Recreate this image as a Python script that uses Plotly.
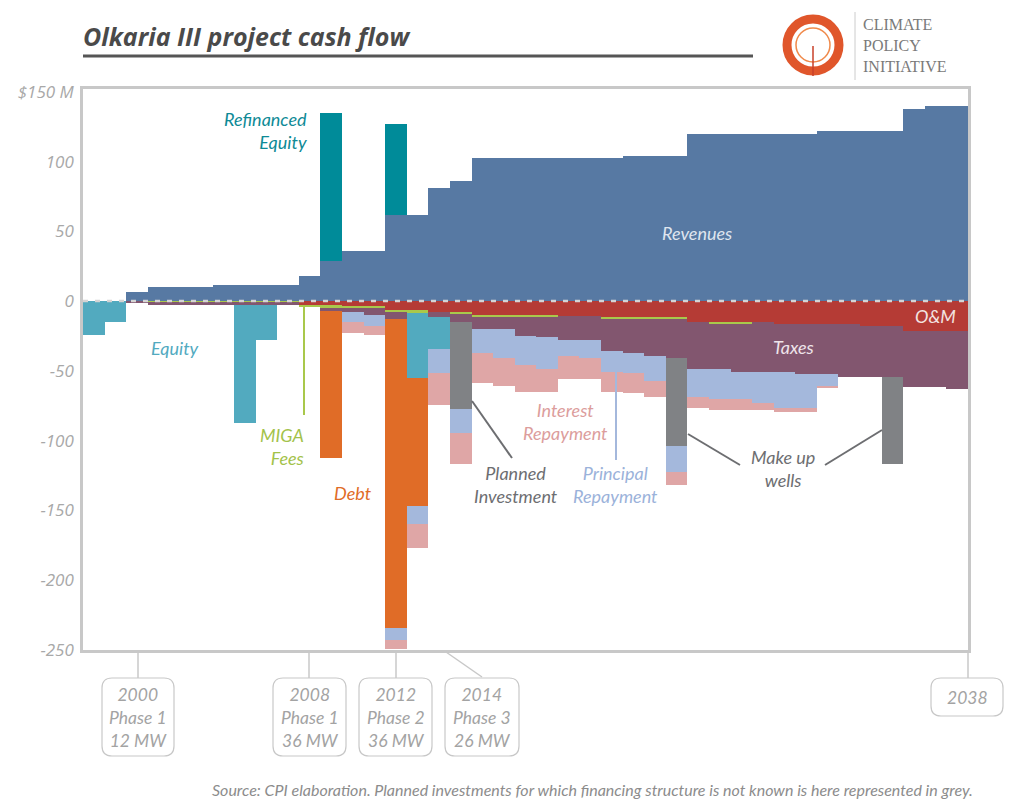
import plotly.graph_objects as go

# Olkaria III project cash flow, $M per year (negative = outflow)
years = list(range(1998, 2039))

revenues = [0, 0, 6.4, 9.8, 9.8, 9.8, 11.2, 11.2, 11.2, 11.2,
            17.7, 29, 35.6, 35.6, 61.6, 61.8, 81.2, 86.4,
            102.7, 102.7, 102.7, 102.7, 102.7, 102.7, 102.7,
            104.1, 104.1, 104.1,
            120.1, 120.1, 120.1, 120.1, 120.1, 120.1,
            122, 122, 122, 122, 138, 139.9, 139.9]
refinanced_equity = [0] * 11 + [106, 0, 0, 65.4] + [0] * 26

om = [0] * 10 + [-2.9, -3.3, -3.6, -3.6, -6.4, -7.0, -7.9, -7.9,
                 -10, -10, -10, -10, -11, -11, -11.7, -11.7, -11.7, -11.7,
                 -14.8, -14.8, -14.8, -14.8, -16.5, -16.5, -16.5, -16.5,
                 -17.9, -17.9, -21.3, -21.3, -21.3]
miga = [0, 0, 0, -0.8, -0.8, -0.8, -0.8, -0.8, -0.8, -0.8,
        -1.6, -1.4, -1.3, -1.3, -1.5, -1.2, 0, -1.6,
        -1.2, -1.2, -1.2, -1.2, 0, 0, -1.2, -1.2, -1.2, -1.2,
        0, -1.5, -1.5, 0, 0, 0, 0, 0, 0, 0, 0, 0, 0]
taxes = [0, 0, -1.5, -2.2, -2.2, -2.2, -2.2, -2.2, -2.2, -2.2,
         0, -2.2, -3.2, -5.1, -5.2, 0, -3.3, -5.3,
         -9.1, -9.1, -13.9, -14.8, -16.9, -16.9, -22.9, -24.6, -26.3, -27.7,
         -34.1, -32.6, -34.3, -35.8, -34.1, -35.8, -35.8, -37.7,
         -36.3, -36.3, -40.5, -40.5, -42]
equity = [-24.4, -14.8, 0, 0, 0, 0, 0, -84.4, -24.5, 0,
          0, 0, 0, 0, 0, -47.2, -22.8] + [0] * 24
debt = [0] * 11 + [-105.3, 0, 0, -221.4, -91.4] + [0] * 25
planned = [0] * 17 + [-62.6] + [0] * 9 + [-63] + [0] * 9 + [-62.6] + [0] * 3
principal = [0] * 12 + [-6.7, -7.9, -8.3, -12.9, -17.8, -17.4,
                        -17.2, -20.3, -20.7, -22.9, -11.3, -13.1, -14.8, -14.3, -17.9, -18.7,
                        -19.6, -21.3, -19.6, -22.7, -26.3, -24.6, -8.6] + [0] * 6
interest = [0] * 12 + [-7.9, -6.5, -6.5, -17.4, -22.7, -22,
                       -21.5, -20.1, -19.6, -16.5, -16.9, -15, -14.4, -13.9, -11.4, -9.5,
                       -8.4, -7.9, -7.9, -4.8, -2.9, -2.9, -1.2] + [0] * 6

y_ticks = [-250, -200, -150, -100, -50, 0, 50, 100, 150]
y_tick_text = ["-250", "-200", "-150", "-100", "-50", "0", "50", "100", "$150 M"]

phase_labels = ["2000<br>Phase 1<br>12 MW", "2008<br>Phase 1<br>36 MW",
                "2012<br>Phase 2<br>36 MW", "2014<br>Phase 3<br>26 MW", "2038"]

# page pixels; the page body adds an 8px margin, so the figure is 8px smaller
OFF = 8
W, H = 1024 - OFF, 805 - OFF
L, R, T, B = 83, 968, 89, 650


def px(x):
    return (x - L) / (R - L)


def py(y):
    return (B - y) / (B - T)


def rrect(x0, y0, x1, y1, r=10):
    return (f"M {px(x0 + r)},{py(y0)} L {px(x1 - r)},{py(y0)} "
            f"Q {px(x1)},{py(y0)} {px(x1)},{py(y0 + r)} L {px(x1)},{py(y1 - r)} "
            f"Q {px(x1)},{py(y1)} {px(x1 - r)},{py(y1)} L {px(x0 + r)},{py(y1)} "
            f"Q {px(x0)},{py(y1)} {px(x0)},{py(y1 - r)} L {px(x0)},{py(y0 + r)} "
            f"Q {px(x0)},{py(y0)} {px(x0 + r)},{py(y0)} Z")


series = [
    ("Revenues", revenues, "#5779A3"),
    ("Refinanced Equity", refinanced_equity, "#008B99"),
    ("O&M", om, "#B53B35"),
    ("MIGA Fees", miga, "#A9C84B"),
    ("Taxes", taxes, "#82566F"),
    ("Equity", equity, "#52AABF"),
    ("Debt", debt, "#E06C27"),
    ("Planned Investment", planned, "#808285"),
    ("Principal Repayment", principal, "#A4B8DC"),
    ("Interest Repayment", interest, "#DFA6A6"),
]

fig = go.Figure()
for name, vals, col in series:
    fig.add_trace(go.Bar(x=years, y=vals, name=name, width=1,
                         marker=dict(color=col, line=dict(width=0)),
                         showlegend=False))

label_font = "Lato"
grey_txt = "#a3a3a3"

shapes = []
# zero line
shapes.append(dict(type="line", xref="paper", yref="y", x0=0, x1=1, y0=0, y1=0,
                   line=dict(color="#d4d4d4", width=2.5, dash="5px,7px"), layer="above"))
# title underline
shapes.append(dict(type="line", xref="paper", yref="paper", x0=px(83), x1=px(753),
                   y0=py(56), y1=py(56), line=dict(color="#555555", width=3)))
# logo
shapes.append(dict(type="circle", xref="paper", yref="paper", x0=px(787), x1=px(839),
                   y0=py(71), y1=py(19), line=dict(color="#E0562B", width=9)))
shapes.append(dict(type="circle", xref="paper", yref="paper", x0=px(796), x1=px(830),
                   y0=py(62), y1=py(28), line=dict(color="#F08A4B", width=1.5)))
shapes.append(dict(type="line", xref="paper", yref="paper", x0=px(813), x1=px(813),
                   y0=py(46), y1=py(76), line=dict(color="#C8402A", width=1.5)))
shapes.append(dict(type="line", xref="paper", yref="paper", x0=px(855), x1=px(855),
                   y0=py(12), y1=py(80), line=dict(color="#cccccc", width=1)))

# pointer lines
pointers = [
    ((304, 306), (304, 415), "#A9C84B"),
    ((472, 401), (512, 458), "#6d6e71"),
    ((616, 372), (616, 460), "#A4B8DC"),
    ((688, 434), (740, 465), "#6d6e71"),
    ((825, 465), (882, 430), "#6d6e71"),
]
for (x0, y0), (x1, y1), col in pointers:
    shapes.append(dict(type="line", xref="paper", yref="paper", x0=px(x0), x1=px(x1),
                       y0=py(y0), y1=py(y1), line=dict(color=col, width=2), layer="above"))

# phase boxes and their tick lines
boxes = [(102, 174, 678, 756), (273, 346, 678, 756), (359, 432, 678, 756),
         (445, 519, 678, 756), (931, 1003, 678, 716)]
ticks = [((138, 652), (138, 678)), ((309, 652), (309, 678)), ((396, 652), (396, 678)),
         ((446, 652), (482, 677)), ((968, 652), (968, 678))]
for (x0, x1, y0, y1), ((a, b), (c, d)) in zip(boxes, ticks):
    shapes.append(dict(type="path", xref="paper", yref="paper", path=rrect(x0, y0, x1, y1),
                       line=dict(color="#c8c8c8", width=1.2)))
    shapes.append(dict(type="line", xref="paper", yref="paper", x0=px(a), x1=px(c),
                       y0=py(b), y1=py(d), line=dict(color="#c8c8c8", width=1.5)))

annotations = []


def note(text, x, y, color, size=18, xanchor="center", align="center", family=label_font):
    annotations.append(dict(text=text, x=px(x), y=py(y), xref="paper", yref="paper",
                            xanchor=xanchor, yanchor="middle", align=align, showarrow=False,
                            font=dict(family=family, size=size, color=color, style="italic")))


for lab, (x0, x1, y0, y1) in zip(phase_labels, boxes):
    note(lab, (x0 + x1) / 2, (y0 + y1) / 2 + 1, grey_txt, size=17.5)

note("Refinanced<br>Equity", 309, 131, "#0E8A96", xanchor="right", align="right")
note("Revenues", 697, 233, "#dfe5ef")
note("Equity", 175, 348, "#52AABF")
note("MIGA<br>Fees", 306, 446, "#A3C24A", xanchor="right", align="right")
note("Debt", 353, 493, "#E06C27")
note("Planned<br>Investment", 516, 484, "#6d6e71")
note("Interest<br>Repayment", 565, 422, "#DC9D9C")
note("Principal<br>Repayment", 615, 484, "#9BB2DA")
note("Make up<br>wells", 783, 468, "#6d6e71")
note("O&M", 935, 316, "#f3e3e1")
note("Taxes", 793, 347, "#eee4ea")
note("Source: CPI elaboration. Planned investments for which financing structure "
     "is not known is here represented in grey.", 975, 789, "#8c8c8c", size=16,
     xanchor="right")

annotations.append(dict(text="<b><i>Olkaria III project cash flow</i></b>", x=px(81), y=py(36),
                        xref="paper", yref="paper", xanchor="left", yanchor="middle",
                        showarrow=False, font=dict(family="Open Sans", size=25, color="#4a4a4a")))
annotations.append(dict(text="CLIMATE<br>POLICY<br>INITIATIVE", x=px(861), y=py(45),
                        xref="paper", yref="paper", xanchor="left", yanchor="middle",
                        align="left", showarrow=False,
                        font=dict(family="Liberation Serif", size=16, color="#7a7a7a")))

fig.update_layout(
    width=W, height=H,
    margin=dict(l=L - OFF, r=1024 - R, t=T - OFF, b=805 - B, autoexpand=False),
    paper_bgcolor="white", plot_bgcolor="white",
    barmode="relative", bargap=0,
    shapes=shapes, annotations=annotations,
    xaxis=dict(range=[1997.5, 2038.5], showticklabels=False, showgrid=False, zeroline=False,
               showline=True, mirror=True, linecolor="#c8c8c8", linewidth=2.5, ticks="",
               automargin=False),
    yaxis=dict(range=[-250, 152], tickvals=y_ticks, ticktext=y_tick_text,
               showgrid=False, zeroline=False, showline=True, mirror=True,
               linecolor="#c8c8c8", linewidth=2.5, ticks="", ticklabelstandoff=3,
               automargin=False,
               tickfont=dict(family="Open Sans", size=17, color="#a8a8a8", style="italic")),
)

fig.write_html("out.html")
